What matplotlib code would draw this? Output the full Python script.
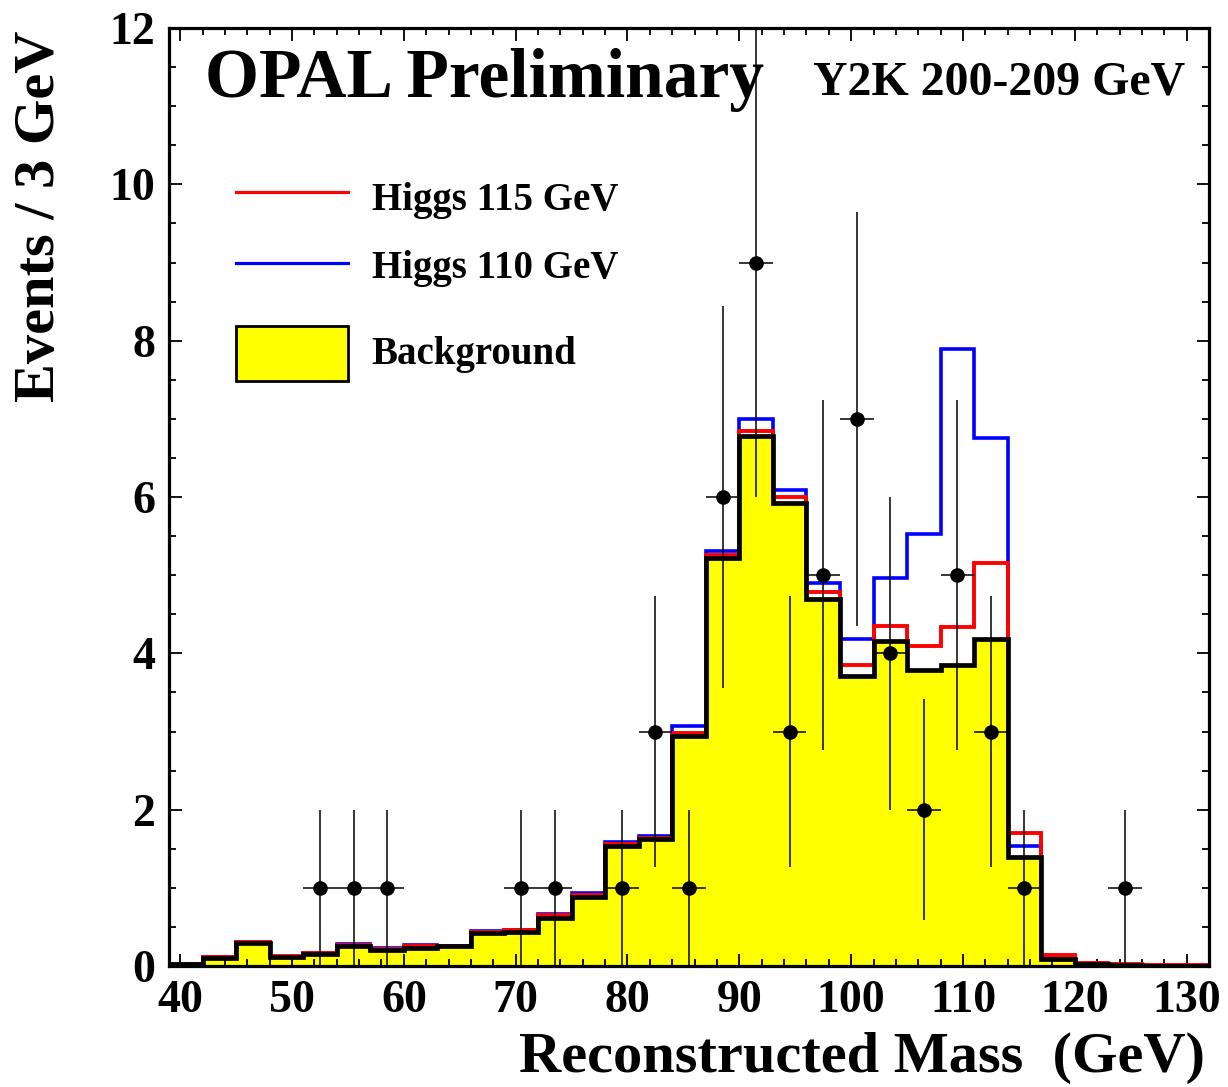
import numpy as np
import matplotlib
matplotlib.use("Agg")
import matplotlib.pyplot as plt
from matplotlib.ticker import MultipleLocator
from matplotlib.patches import Rectangle
from matplotlib.lines import Line2D

# ---------------- data ----------------
bin_edges = np.arange(39, 133, 3)  # 39 ... 132, 31 bins of 3 GeV

background = [0.02, 0.10, 0.30, 0.11, 0.15, 0.25, 0.20, 0.23, 0.25, 0.42,
              0.44, 0.62, 0.88, 1.53, 1.62, 2.94, 5.22, 6.78, 5.92, 4.69,
              3.71, 4.16, 3.79, 3.85, 4.18, 1.40, 0.09, 0.02, 0.01, 0.005, 0.005]

higgs115 = [0.02, 0.11, 0.31, 0.13, 0.17, 0.27, 0.22, 0.25, 0.26, 0.44,
            0.46, 0.65, 0.91, 1.56, 1.64, 2.98, 5.26, 6.84, 6.00, 4.79,
            3.85, 4.35, 4.09, 4.34, 5.16, 1.70, 0.14, 0.04, 0.02, 0.01, 0.01]

higgs110 = [0.02, 0.12, 0.31, 0.12, 0.16, 0.28, 0.23, 0.27, 0.26, 0.45,
            0.46, 0.67, 0.93, 1.58, 1.66, 3.07, 5.31, 7.00, 6.09, 4.90,
            4.18, 4.97, 5.53, 7.89, 6.76, 1.54, 0.10, 0.03, 0.01, 0.005, 0.005]

data_counts = [0, 0, 0, 0, 1, 1, 1, 0, 0, 0,
               1, 1, 0, 1, 3, 1, 6, 9, 3, 5,
               7, 4, 2, 5, 3, 1, 0, 0, 1, 0, 0]

title_left = "OPAL Preliminary"
title_right = "Y2K 200-209 GeV"
legend_labels = ["Higgs 115 GeV", "Higgs 110 GeV", "Background"]
xlabel = "Reconstructed Mass  (GeV)"
ylabel = "Events / 3 GeV"

# ---------------- style ----------------
plt.rcParams['font.family'] = ['Liberation Serif', 'DejaVu Serif']
plt.rcParams['font.weight'] = 'bold'
plt.rcParams['axes.labelweight'] = 'bold'

fig = plt.figure(figsize=(12.28, 10.87), dpi=100)
ax = fig.add_axes([169/1228, 121/1087, 1040/1228, 938/1087])

edges = np.array(bin_edges, dtype=float)
centers = 0.5 * (edges[:-1] + edges[1:])
half = 0.5 * np.diff(edges)
counts = np.array(data_counts, dtype=float)

# background filled
ax.stairs(background, edges, fill=True, color='#ffff00', zorder=1)
ax.stairs(higgs110, edges, color='#0000ff', lw=2.6, zorder=2)
ax.stairs(higgs115, edges, color='#ff0000', lw=2.8, zorder=3)
ax.stairs(background, edges, color='black', lw=3.4, zorder=4)

# data points
m = counts > 0
ax.errorbar(centers[m], counts[m], yerr=np.sqrt(counts[m]), xerr=half[m],
            fmt='o', color='black', ms=9.5, elinewidth=1.1, capsize=0,
            zorder=6)

ax.set_xlim(39, 132)
ax.set_ylim(0, 12)

ax.xaxis.set_major_locator(MultipleLocator(10))
ax.xaxis.set_minor_locator(MultipleLocator(2))
ax.yaxis.set_major_locator(MultipleLocator(2))
ax.yaxis.set_minor_locator(MultipleLocator(0.5))
ax.tick_params(which='both', direction='in', top=True, right=True, width=1.3,
               labelsize=33)
ax.tick_params(which='major', length=9)
ax.tick_params(which='minor', length=5)
ax.tick_params(axis='x', which='major', pad=10)
ax.tick_params(axis='y', which='major', pad=10)
for sp in ax.spines.values():
    sp.set_linewidth(2.3)
    sp.set_zorder(10)

ax.set_xlabel(xlabel, fontsize=42, fontweight='bold', loc='right')
ax.xaxis.set_label_coords(0.996, -0.070)
ax.set_ylabel(ylabel, fontsize=42, fontweight='bold', loc='top')
ax.yaxis.set_label_coords(-0.099, 0.997)

# titles
ax.text(0.0346, 0.926, title_left, transform=ax.transAxes, fontsize=50,
        ha='left', va='baseline')
ax.text(0.977, 0.9286, title_right, transform=ax.transAxes, fontsize=34.5,
        ha='right', va='baseline')

# legend (manual, ROOT style)
ax.add_line(Line2D([0.0644, 0.172], [0.825, 0.825], transform=ax.transAxes,
                   color='#ff0000', lw=2.3, zorder=7))
ax.add_line(Line2D([0.0644, 0.172], [0.7495, 0.7495], transform=ax.transAxes,
                   color='#0000ff', lw=2.3, zorder=7))
ax.add_patch(Rectangle((0.0644, 0.6237), 0.172 - 0.0644, 0.682 - 0.6237,
                       transform=ax.transAxes, facecolor='#ffff00',
                       edgecolor='black', lw=2.0, zorder=7))
for txt, yb in zip(legend_labels, [0.806, 0.7335, 0.6418]):
    ax.text(0.195, yb, txt, transform=ax.transAxes, fontsize=28,
            ha='left', va='baseline')

fig.savefig('out.png', dpi=100)
